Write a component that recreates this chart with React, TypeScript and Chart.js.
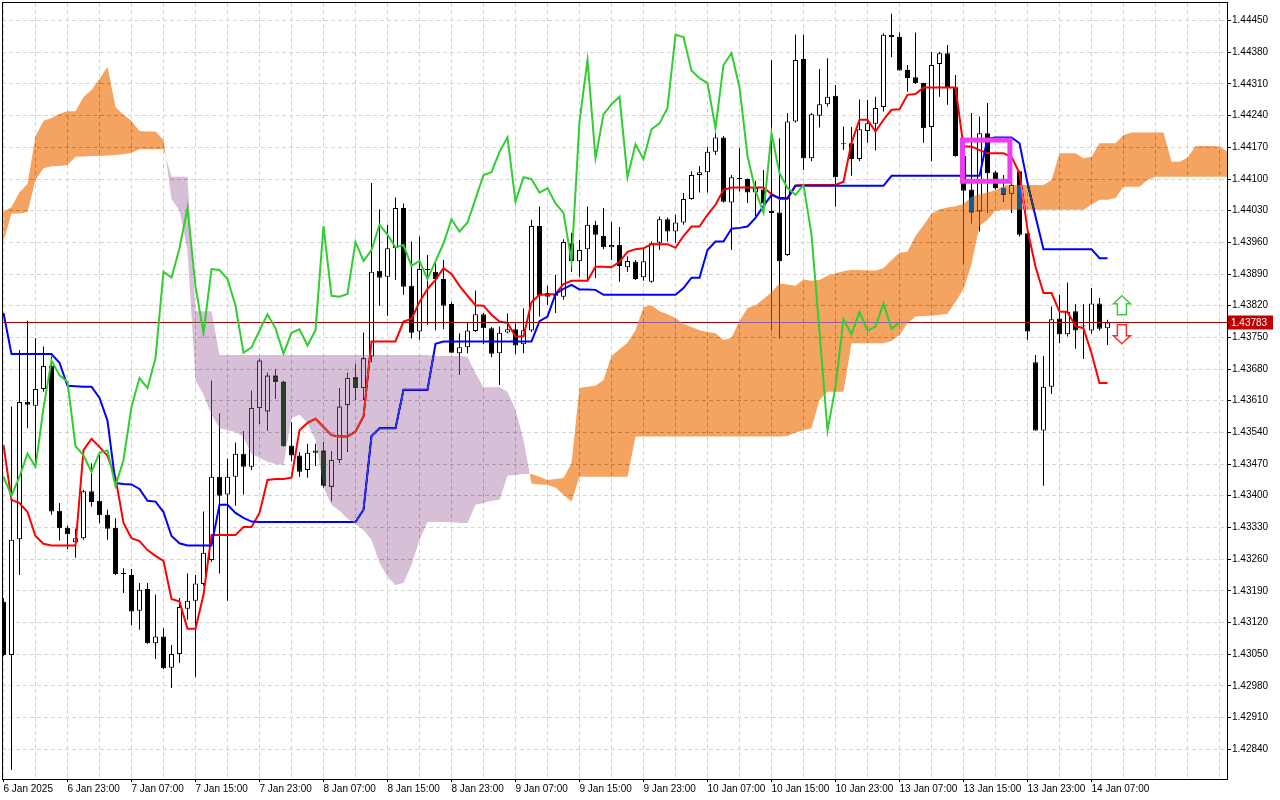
import { useEffect, useRef } from 'react'
import { Chart, registerables } from 'chart.js'

Chart.register(...registerables)

// hourly candles, bar 0 = 6 Jan 15:00
const OPEN = [
  1.43166, 1.43048, 1.43304, 1.43607, 1.43599, 1.43636, 1.43687, 1.43367, 1.43329, 1.43297,
  1.43306, 1.43410, 1.43389, 1.43358, 1.43329, 1.43229, 1.43225, 1.43146, 1.43194, 1.43074,
  1.43089, 1.43020, 1.43050, 1.43150, 1.43168, 1.43205, 1.43258, 1.43442, 1.43403, 1.43442,
  1.43493, 1.43464, 1.43594, 1.43586, 1.43666, 1.43652, 1.43511, 1.43489, 1.43457, 1.43495,
  1.43500, 1.43420, 1.43479, 1.43600, 1.43662, 1.43638, 1.43708, 1.43897, 1.43884, 1.43947,
  1.44036, 1.43864, 1.43763, 1.43901, 1.43895, 1.43879, 1.43824, 1.43715, 1.43728, 1.43764,
  1.43801, 1.43770, 1.43715, 1.43761, 1.43768, 1.43735, 1.43765, 1.43996, 1.43848, 1.43842,
  1.43840, 1.43958, 1.43918, 1.43945, 1.43999, 1.43974, 1.43949, 1.43954, 1.43905, 1.43917,
  1.43883, 1.43873, 1.43959, 1.44011, 1.43984, 1.44004, 1.44056, 1.44109, 1.44115, 1.44160,
  1.44192, 1.44048, 1.44102, 1.44100, 1.44070, 1.44077, 1.44030, 1.44026, 1.43932, 1.44227,
  1.44365, 1.44146, 1.44240, 1.44265, 1.44284, 1.44179, 1.44179, 1.44144, 1.44206, 1.44222,
  1.44259, 1.44419, 1.44414, 1.44341, 1.44325, 1.44312, 1.44215, 1.44354, 1.44378, 1.44303,
  1.44151, 1.44077, 1.44028, 1.44201, 1.44115, 1.44080, 1.44067, 1.44117, 1.43980, 1.43695,
  1.43544, 1.43641, 1.43792, 1.43757, 1.43808, 1.43776, 1.43765, 1.43825, 1.43770,
]
const HIGH = [
  1.43174, 1.43597, 1.43722, 1.43787, 1.43748, 1.43730, 1.43708, 1.43384, 1.43334, 1.43327,
  1.43413, 1.43472, 1.43490, 1.43369, 1.43350, 1.43240, 1.43238, 1.43207, 1.43207, 1.43181,
  1.43107, 1.43070, 1.43174, 1.43228, 1.43225, 1.43365, 1.43654, 1.43582, 1.43482, 1.43517,
  1.43543, 1.43632, 1.43703, 1.43672, 1.43680, 1.43654, 1.43563, 1.43496, 1.43515, 1.43515,
  1.43519, 1.43498, 1.43638, 1.43672, 1.43691, 1.43761, 1.44091, 1.44033, 1.43999, 1.44059,
  1.44046, 1.43962, 1.43973, 1.43932, 1.43920, 1.43921, 1.43829, 1.43759, 1.43784, 1.43853,
  1.43804, 1.43773, 1.43774, 1.43803, 1.43781, 1.43814, 1.44010, 1.44039, 1.43864, 1.43888,
  1.43967, 1.43981, 1.43966, 1.44039, 1.44008, 1.44036, 1.44005, 1.43994, 1.43929, 1.43921,
  1.43948, 1.43962, 1.44017, 1.44015, 1.44021, 1.44069, 1.44117, 1.44129, 1.44170, 1.44201,
  1.44195, 1.44109, 1.44168, 1.44101, 1.44096, 1.44120, 1.44363, 1.44190, 1.44246, 1.44419,
  1.44419, 1.44246, 1.44343, 1.44367, 1.44308, 1.44216, 1.44215, 1.44276, 1.44275, 1.44282,
  1.44422, 1.44465, 1.44424, 1.44352, 1.44424, 1.44313, 1.44381, 1.44381, 1.44396, 1.44330,
  1.44186, 1.44246, 1.44238, 1.44268, 1.44118, 1.44109, 1.44180, 1.44118, 1.43981, 1.43711,
  1.43709, 1.43818, 1.43844, 1.43871, 1.43823, 1.43823, 1.43859, 1.43837, 1.43789,
]
const LOW = [
  1.43046, 1.42794, 1.43225, 1.43549, 1.43468, 1.43630, 1.43358, 1.43301, 1.43282, 1.43263,
  1.43303, 1.43376, 1.43339, 1.43303, 1.43225, 1.43185, 1.43114, 1.43104, 1.43073, 1.43039,
  1.43017, 1.42975, 1.43031, 1.43126, 1.43000, 1.43201, 1.43254, 1.43228, 1.43168, 1.43378,
  1.43403, 1.43457, 1.43559, 1.43544, 1.43614, 1.43508, 1.43476, 1.43442, 1.43440, 1.43466,
  1.43418, 1.43388, 1.43473, 1.43497, 1.43612, 1.43612, 1.43696, 1.43820, 1.43798, 1.43877,
  1.43844, 1.43748, 1.43745, 1.43778, 1.43766, 1.43768, 1.43716, 1.43667, 1.43715, 1.43762,
  1.43735, 1.43706, 1.43645, 1.43759, 1.43713, 1.43715, 1.43762, 1.43796, 1.43822, 1.43804,
  1.43833, 1.43895, 1.43884, 1.43877, 1.43881, 1.43945, 1.43921, 1.43873, 1.43895, 1.43877,
  1.43875, 1.43871, 1.43943, 1.43962, 1.43959, 1.43999, 1.44054, 1.44070, 1.44070, 1.44153,
  1.44048, 1.43943, 1.44072, 1.44047, 1.44017, 1.44039, 1.43766, 1.43748, 1.43930, 1.44225,
  1.44120, 1.44139, 1.44214, 1.44260, 1.44039, 1.44164, 1.44107, 1.44139, 1.44180, 1.44163,
  1.44249, 1.44369, 1.44339, 1.44293, 1.44310, 1.44180, 1.44139, 1.44282, 1.44264, 1.44149,
  1.43914, 1.44002, 1.43984, 1.44025, 1.44076, 1.44050, 1.44025, 1.43973, 1.43745, 1.43543,
  1.43422, 1.43625, 1.43737, 1.43752, 1.43725, 1.43702, 1.43758, 1.43765, 1.43733,
]
const CLOSE = [
  1.43048, 1.43303, 1.43607, 1.43601, 1.43636, 1.43687, 1.43365, 1.43328, 1.43315, 1.43306,
  1.43410, 1.43386, 1.43357, 1.43327, 1.43227, 1.43227, 1.43144, 1.43192, 1.43074, 1.43089,
  1.43019, 1.43050, 1.43154, 1.43168, 1.43206, 1.43274, 1.43442, 1.43400, 1.43442, 1.43493,
  1.43464, 1.43594, 1.43699, 1.43666, 1.43652, 1.43510, 1.43489, 1.43453, 1.43495, 1.43500,
  1.43422, 1.43479, 1.43597, 1.43660, 1.43638, 1.43704, 1.43895, 1.43882, 1.43947, 1.44036,
  1.43862, 1.43760, 1.43901, 1.43899, 1.43879, 1.43820, 1.43716, 1.43728, 1.43765, 1.43801,
  1.43770, 1.43714, 1.43760, 1.43768, 1.43732, 1.43766, 1.43996, 1.43842, 1.43840, 1.43846,
  1.43961, 1.43919, 1.43943, 1.43999, 1.43977, 1.43949, 1.43954, 1.43908, 1.43919, 1.43879,
  1.43918, 1.43958, 1.44011, 1.43984, 1.44004, 1.44056, 1.44109, 1.44115, 1.44160, 1.44192,
  1.44050, 1.44104, 1.44100, 1.44070, 1.44080, 1.44046, 1.44025, 1.43918, 1.44227, 1.44363,
  1.44146, 1.44243, 1.44265, 1.44282, 1.44104, 1.44177, 1.44144, 1.44210, 1.44223, 1.44257,
  1.44419, 1.44414, 1.44340, 1.44323, 1.44312, 1.44212, 1.44352, 1.44378, 1.44303, 1.44151,
  1.44074, 1.44026, 1.44201, 1.44113, 1.44080, 1.44065, 1.44087, 1.43977, 1.43763, 1.43544,
  1.43641, 1.43790, 1.43757, 1.43806, 1.43765, 1.43774, 1.43825, 1.43769, 1.43783,
]

const TENKAN = [
  1.43512, 1.43391, 1.43384, 1.43364, 1.43311, 1.43294, 1.43290, 1.43290, 1.43290, 1.43290,
  1.43501, 1.43526, 1.43508, 1.43488, 1.43440, 1.43340, 1.43306, 1.43300, 1.43280, 1.43267,
  1.43256, 1.43172, 1.43166, 1.43106, 1.43106, 1.43181, 1.43313, 1.43313, 1.43313, 1.43313,
  1.43331, 1.43331, 1.43362, 1.43435, 1.43437, 1.43437, 1.43440, 1.43545, 1.43561, 1.43570,
  1.43552, 1.43534, 1.43531, 1.43531, 1.43542, 1.43575, 1.43741, 1.43741, 1.43741, 1.43741,
  1.43785, 1.43791, 1.43828, 1.43857, 1.43877, 1.43903, 1.43890, 1.43864, 1.43842, 1.43821,
  1.43820, 1.43800, 1.43785, 1.43782, 1.43752, 1.43752, 1.43828, 1.43844, 1.43845, 1.43846,
  1.43868, 1.43875, 1.43875, 1.43875, 1.43906, 1.43906, 1.43905, 1.43917, 1.43939, 1.43945,
  1.43947, 1.43956, 1.43956, 1.43956, 1.43948, 1.43974, 1.43995, 1.43995, 1.44021, 1.44043,
  1.44076, 1.44081, 1.44081, 1.44081, 1.44081, 1.44081, 1.44067, 1.44056, 1.44056, 1.44086,
  1.44087, 1.44087, 1.44087, 1.44087, 1.44087, 1.44094, 1.44180, 1.44231, 1.44231, 1.44205,
  1.44231, 1.44253, 1.44254, 1.44286, 1.44288, 1.44302, 1.44302, 1.44302, 1.44302, 1.44302,
  1.44172, 1.44172, 1.44164, 1.44157, 1.44157, 1.44157, 1.44149, 1.44113, 1.43988, 1.43906,
  1.43848, 1.43848, 1.43807, 1.43806, 1.43775, 1.43770, 1.43715, 1.43649, 1.43649,
]
const KIJUN = [
  1.43804, 1.43713, 1.43713, 1.43713, 1.43713, 1.43713, 1.43713, 1.43694, 1.43643, 1.43642,
  1.43641, 1.43641, 1.43616, 1.43566, 1.43428, 1.43426, 1.43425, 1.43415, 1.43389, 1.43387,
  1.43364, 1.43311, 1.43295, 1.43290, 1.43290, 1.43290, 1.43290, 1.43380, 1.43380, 1.43362,
  1.43351, 1.43343, 1.43342, 1.43342, 1.43342, 1.43342, 1.43342, 1.43342, 1.43342, 1.43342,
  1.43342, 1.43342, 1.43342, 1.43342, 1.43342, 1.43369, 1.43532, 1.43549, 1.43549, 1.43549,
  1.43634, 1.43634, 1.43634, 1.43634, 1.43736, 1.43741, 1.43741, 1.43741, 1.43741, 1.43741,
  1.43741, 1.43741, 1.43741, 1.43741, 1.43741, 1.43741, 1.43741, 1.43786, 1.43796, 1.43846,
  1.43857, 1.43866, 1.43856, 1.43856, 1.43855, 1.43844, 1.43844, 1.43844, 1.43844, 1.43844,
  1.43844, 1.43844, 1.43844, 1.43844, 1.43844, 1.43859, 1.43882, 1.43882, 1.43943, 1.43962,
  1.43962, 1.43990, 1.43992, 1.43995, 1.44014, 1.44040, 1.44065, 1.44058, 1.44058, 1.44085,
  1.44085, 1.44085, 1.44085, 1.44085, 1.44085, 1.44085, 1.44085, 1.44085, 1.44085, 1.44085,
  1.44085, 1.44107, 1.44107, 1.44107, 1.44107, 1.44107, 1.44107, 1.44107, 1.44107, 1.44107,
  1.44107, 1.44107, 1.44107, 1.44189, 1.44192, 1.44192, 1.44192, 1.44179, 1.44091, 1.44017,
  1.43945, 1.43945, 1.43945, 1.43945, 1.43945, 1.43945, 1.43945, 1.43925, 1.43925,
]
// cloud spans, already plotted 26 bars ahead (index 0..153)
const SENKOU_A = [
  1.44028, 1.44038, 1.44071, 1.44089, 1.44195, 1.44229, 1.44235, 1.44244, 1.44250, 1.44250,
  1.44281, 1.44297, 1.44321, 1.44348, 1.44259, 1.44242, 1.44228, 1.44206, 1.44205, 1.44205,
  1.44186, 1.44056, 1.44030, 1.43943, 1.43656, 1.43623, 1.43579, 1.43550, 1.43545, 1.43541,
  1.43530, 1.43492, 1.43484, 1.43475, 1.43470, 1.43468, 1.43572, 1.43579, 1.43561, 1.43523,
  1.43420, 1.43380, 1.43367, 1.43349, 1.43338, 1.43324, 1.43303, 1.43252, 1.43221, 1.43203,
  1.43207, 1.43247, 1.43303, 1.43342, 1.43342, 1.43342, 1.43342, 1.43340, 1.43340, 1.43380,
  1.43384, 1.43389, 1.43391, 1.43444, 1.43446, 1.43448, 1.43448, 1.43442, 1.43435, 1.43437,
  1.43439, 1.43472, 1.43638, 1.43641, 1.43643, 1.43656, 1.43709, 1.43724, 1.43738, 1.43766,
  1.43817, 1.43821, 1.43808, 1.43801, 1.43793, 1.43780, 1.43773, 1.43766, 1.43762, 1.43759,
  1.43744, 1.43749, 1.43786, 1.43815, 1.43821, 1.43835, 1.43850, 1.43869, 1.43867, 1.43864,
  1.43878, 1.43875, 1.43877, 1.43886, 1.43892, 1.43896, 1.43899, 1.43899, 1.43898, 1.43898,
  1.43903, 1.43921, 1.43937, 1.43939, 1.43974, 1.43998, 1.44023, 1.44033, 1.44037, 1.44040,
  1.44045, 1.44061, 1.44066, 1.44070, 1.44075, 1.44085, 1.44087, 1.44087, 1.44087, 1.44087,
  1.44087, 1.44098, 1.44157, 1.44157, 1.44157, 1.44146, 1.44149, 1.44179, 1.44179, 1.44179,
  1.44197, 1.44203, 1.44203, 1.44203, 1.44203, 1.44203, 1.44138, 1.44138, 1.44147, 1.44173,
  1.44173, 1.44173, 1.44172, 1.44160,
]
const SENKOU_B = [
  1.43962, 1.44024, 1.44024, 1.44027, 1.44098, 1.44124, 1.44128, 1.44129, 1.44131, 1.44149,
  1.44150, 1.44151, 1.44151, 1.44152, 1.44153, 1.44155, 1.44158, 1.44166, 1.44166, 1.44166,
  1.44166, 1.44105, 1.44105, 1.44105, 1.43808, 1.43808, 1.43808, 1.43711, 1.43711, 1.43711,
  1.43711, 1.43711, 1.43711, 1.43711, 1.43711, 1.43711, 1.43711, 1.43711, 1.43711, 1.43711,
  1.43711, 1.43711, 1.43711, 1.43711, 1.43711, 1.43711, 1.43711, 1.43711, 1.43711, 1.43711,
  1.43711, 1.43711, 1.43711, 1.43711, 1.43709, 1.43709, 1.43709, 1.43709, 1.43707, 1.43671,
  1.43640, 1.43640, 1.43640, 1.43630, 1.43590, 1.43523, 1.43427, 1.43425, 1.43424, 1.43418,
  1.43402, 1.43387, 1.43442, 1.43442, 1.43442, 1.43442, 1.43442, 1.43442, 1.43442, 1.43531,
  1.43531, 1.43531, 1.43531, 1.43531, 1.43531, 1.43531, 1.43531, 1.43531, 1.43531, 1.43531,
  1.43531, 1.43531, 1.43531, 1.43531, 1.43531, 1.43531, 1.43531, 1.43531, 1.43532, 1.43540,
  1.43545, 1.43549, 1.43612, 1.43630, 1.43630, 1.43630, 1.43737, 1.43737, 1.43737, 1.43737,
  1.43737, 1.43742, 1.43755, 1.43782, 1.43796, 1.43797, 1.43798, 1.43800, 1.43802, 1.43828,
  1.43857, 1.43912, 1.43996, 1.44010, 1.44030, 1.44032, 1.44032, 1.44032, 1.44032, 1.44032,
  1.44032, 1.44032, 1.44032, 1.44032, 1.44032, 1.44032, 1.44043, 1.44054, 1.44054, 1.44058,
  1.44083, 1.44083, 1.44083, 1.44098, 1.44105, 1.44105, 1.44105, 1.44105, 1.44105, 1.44105,
  1.44105, 1.44105, 1.44105, 1.44105,
]

const SHIFT = 26
// chikou span = close plotted 26 bars back
const CHIKOU = CLOSE.slice(SHIFT)
const LAST = CLOSE[CLOSE.length - 1]

const X_LABELS = [
  '6 Jan 2025', '6 Jan 23:00', '7 Jan 07:00', '7 Jan 15:00', '7 Jan 23:00', '8 Jan 07:00',
  '8 Jan 15:00', '8 Jan 23:00', '9 Jan 07:00', '9 Jan 15:00', '9 Jan 23:00', '10 Jan 07:00',
  '10 Jan 15:00', '10 Jan 23:00', '13 Jan 07:00', '13 Jan 15:00', '13 Jan 23:00', '14 Jan 07:00',
]
const LABEL_EVERY = 8
const GRID_EVERY = 4
const Y_TICKS = [
  1.42840, 1.42910, 1.42980, 1.43050, 1.43120, 1.43190, 1.43260, 1.43330, 1.43400, 1.43470,
  1.43540, 1.43610, 1.43680, 1.43750, 1.43820, 1.43890, 1.43960, 1.44030, 1.44100, 1.44170,
  1.44240, 1.44310, 1.44380, 1.44450,
]

// drawn objects on the chart
const BOX = { from: 119.875, to: 125.8, top: 1.44186, bottom: 1.44095 }
const SIGNALS = [
  { bar: 139.8, price: 1.43842, dir: 1 },
  { bar: 139.8, price: 1.43736, dir: -1 },
]

const FONT = { family: "'Liberation Sans', Arial, sans-serif", size: 10 }
const GRID = '#d4d4d4'
const KIJUN_INDEX = 3

function drawCloud(chart: any) {
  const { ctx, chartArea: a, scales } = chart
  const px = (v: number) => scales.x.getPixelForValue(v)
  const py = (v: number) => scales.y.getPixelForValue(v)
  const up = new Path2D()
  const dn = new Path2D()
  const poly = (p: Path2D, pts: number[][]) => {
    p.moveTo(pts[0][0], pts[0][1])
    for (let k = 1; k < pts.length; k++) p.lineTo(pts[k][0], pts[k][1])
    p.closePath()
  }
  for (let i = 0; i < SENKOU_A.length - 1; i++) {
    const a0 = SENKOU_A[i], a1 = SENKOU_A[i + 1]
    const b0 = SENKOU_B[i], b1 = SENKOU_B[i + 1]
    const x0 = px(i), x1 = px(i + 1)
    const d0 = a0 - b0, d1 = a1 - b1
    if (d0 * d1 >= 0) {
      poly(d0 + d1 >= 0 ? up : dn, [[x0, py(a0)], [x1, py(a1)], [x1, py(b1)], [x0, py(b0)]])
    } else {
      const t = d0 / (d0 - d1)
      const xm = x0 + t * (x1 - x0)
      const ym = py(a0 + t * (a1 - a0))
      poly(d0 > 0 ? up : dn, [[x0, py(a0)], [xm, ym], [x0, py(b0)]])
      poly(d1 > 0 ? up : dn, [[xm, ym], [x1, py(a1)], [x1, py(b1)]])
    }
  }
  ctx.save()
  ctx.beginPath()
  ctx.rect(a.left, a.top, a.right - a.left, a.bottom - a.top)
  ctx.clip()
  // bid line sits under the cloud
  const ly = Math.round(py(LAST)) + 0.5
  ctx.strokeStyle = '#a00000'
  ctx.lineWidth = 1
  ctx.beginPath()
  ctx.moveTo(a.left, ly)
  ctx.lineTo(a.right, ly)
  ctx.stroke()
  // the terminal xors the cloud over the bars: inverted sandybrown / thistle
  ctx.globalCompositeOperation = 'difference'
  ctx.fillStyle = '#0b5b9f'
  ctx.fill(up)
  ctx.fillStyle = '#274027'
  ctx.fill(dn)
  ctx.restore()
}

function drawArrow(ctx: CanvasRenderingContext2D, cx: number, tip: number, dir: number, color: string) {
  const hw = 8.5, sw = 4.5, hh = 8, len = 19
  const pts = [
    [cx, tip], [cx + hw, tip + dir * hh], [cx + sw, tip + dir * hh], [cx + sw, tip + dir * len],
    [cx - sw, tip + dir * len], [cx - sw, tip + dir * hh], [cx - hw, tip + dir * hh],
  ]
  ctx.beginPath()
  ctx.moveTo(pts[0][0], pts[0][1])
  for (let k = 1; k < pts.length; k++) ctx.lineTo(pts[k][0], pts[k][1])
  ctx.closePath()
  ctx.fillStyle = '#ffffff'
  ctx.fill()
  ctx.strokeStyle = color
  ctx.lineWidth = 1.5
  ctx.stroke()
}

const terminalPlugin = {
  id: 'terminal',
  beforeDraw(chart: any) {
    const { ctx, width, height } = chart
    ctx.save()
    ctx.fillStyle = '#ffffff'
    ctx.fillRect(0, 0, width, height)
    ctx.restore()
  },
  afterDatasetDraw(chart: any, args: any) {
    if (args.index === KIJUN_INDEX) drawCloud(chart)
  },
  afterDraw(chart: any) {
    const { ctx, chartArea: a, scales } = chart
    const px = (v: number) => scales.x.getPixelForValue(v)
    const py = (v: number) => scales.y.getPixelForValue(v)
    ctx.save()
    // magenta rectangle
    ctx.strokeStyle = '#f03cf0'
    ctx.lineWidth = 5
    ctx.strokeRect(px(BOX.from), py(BOX.top), px(BOX.to) - px(BOX.from), py(BOX.bottom) - py(BOX.top))
    // signal arrows
    SIGNALS.forEach((s) => drawArrow(ctx, px(s.bar), py(s.price), s.dir, s.dir > 0 ? '#3ccb3c' : '#ff2a2a'))
    // frame
    ctx.strokeStyle = '#000000'
    ctx.lineWidth = 1
    ctx.strokeRect(a.left + 0.5, a.top - 0.5, a.right - a.left, a.bottom - a.top + 1)
    // last price tag
    const ly = Math.round(py(LAST)) + 0.5
    ctx.fillStyle = '#c00000'
    ctx.fillRect(a.right + 1, ly - 7, 45, 14)
    ctx.fillStyle = '#ffffff'
    ctx.font = `${FONT.size}px ${FONT.family}`
    ctx.textBaseline = 'middle'
    ctx.fillText(LAST.toFixed(5), a.right + 4, ly + 0.5)
    ctx.restore()
  },
}

export default function App() {
  const canvasRef = useRef<HTMLCanvasElement>(null)

  useEffect(() => {
    document.body.style.margin = '0'
    if (!canvasRef.current) return
    const idx = CLOSE.map((_, i) => i)

    const chart = new Chart(canvasRef.current, {
      type: 'bar',
      data: {
        datasets: [
          {
            type: 'bar',
            label: 'wick',
            data: idx.map((i) => ({ x: i, y: [LOW[i], HIGH[i]] })),
            backgroundColor: '#000000',
            borderWidth: 0,
            barThickness: 1,
            grouped: false,
            inflateAmount: 0,
            order: 10,
          },
          {
            type: 'bar',
            label: 'body',
            data: idx.map((i) => ({ x: i, y: [OPEN[i], CLOSE[i]] })),
            backgroundColor: idx.map((i) => (CLOSE[i] >= OPEN[i] ? '#ffffff' : '#000000')),
            borderColor: '#000000',
            borderWidth: 1,
            borderSkipped: false,
            barThickness: 5,
            minBarLength: 1,
            grouped: false,
            inflateAmount: 0,
            order: 9,
          },
          {
            type: 'line',
            label: 'Tenkan-sen',
            data: TENKAN.map((v, i) => ({ x: i, y: v })),
            borderColor: '#ff0000',
            borderWidth: 2,
            pointRadius: 0,
            fill: false,
            order: 8,
          },
          {
            type: 'line',
            label: 'Kijun-sen',
            data: KIJUN.map((v, i) => ({ x: i, y: v })),
            borderColor: '#0000ff',
            borderWidth: 2,
            pointRadius: 0,
            fill: false,
            order: 7,
          },
          {
            type: 'line',
            label: 'Chikou Span',
            data: CHIKOU.map((v, i) => ({ x: i, y: v })),
            borderColor: '#32cd32',
            borderWidth: 2,
            pointRadius: 0,
            fill: false,
            order: 1,
          },
        ],
      },
      options: {
        animation: false,
        responsive: true,
        maintainAspectRatio: false,
        devicePixelRatio: 1,
        events: [],
        layout: { padding: { left: 2, top: 3, right: 0, bottom: 0 } },
        plugins: { legend: { display: false }, tooltip: { enabled: false } },
        scales: {
          x: {
            type: 'linear',
            min: -0.1875,
            max: 152.9375,
            bounds: 'data',
            offset: false,
            afterBuildTicks: (s: any) => {
              const t = []
              for (let v = 0; v <= s.max; v += GRID_EVERY) t.push({ value: v })
              s.ticks = t
            },
            afterFit: (s: any) => {
              s.height = 21
              s.paddingLeft = 0
              s.paddingRight = 0
            },
            grid: {
              offset: false,
              color: GRID,
              drawTicks: true,
              tickLength: 3,
              tickBorderDash: [],
              tickColor: (c: any) =>
                c.tick && c.tick.value % LABEL_EVERY === 0 && c.tick.value / LABEL_EVERY < X_LABELS.length
                  ? '#000000'
                  : 'rgba(0,0,0,0)',
            },
            border: { display: false, dash: [4, 3] },
            ticks: {
              autoSkip: false,
              maxRotation: 0,
              minRotation: 0,
              align: 'start',
              padding: 1,
              color: '#000000',
              font: FONT,
              callback: (v: any) => {
                const n = Number(v)
                const k = n / LABEL_EVERY
                return n % LABEL_EVERY === 0 && k < X_LABELS.length ? X_LABELS[k] : ''
              },
            },
          },
          y: {
            type: 'linear',
            position: 'right',
            min: 1.42774,
            max: 1.44489,
            bounds: 'data',
            beginAtZero: false,
            afterBuildTicks: (s: any) => {
              s.ticks = Y_TICKS.map((v) => ({ value: v }))
            },
            afterFit: (s: any) => {
              s.width = 53
              s.paddingTop = 0
              s.paddingBottom = 0
            },
            grid: {
              color: GRID,
              drawTicks: true,
              tickLength: 4,
              tickBorderDash: [],
              tickColor: '#000000',
            },
            border: { display: false, dash: [4, 3] },
            ticks: {
              padding: 1,
              color: '#000000',
              font: FONT,
              callback: (v: any) => Number(v).toFixed(5),
            },
          },
        },
      },
      plugins: [terminalPlugin],
    } as any)

    return () => {
      chart.destroy()
    }
  }, [])

  return (
    <div style={{ position: 'fixed', left: 0, top: 0, width: 1280, height: 800, background: '#ffffff' }}>
      <canvas ref={canvasRef} />
    </div>
  )
}
